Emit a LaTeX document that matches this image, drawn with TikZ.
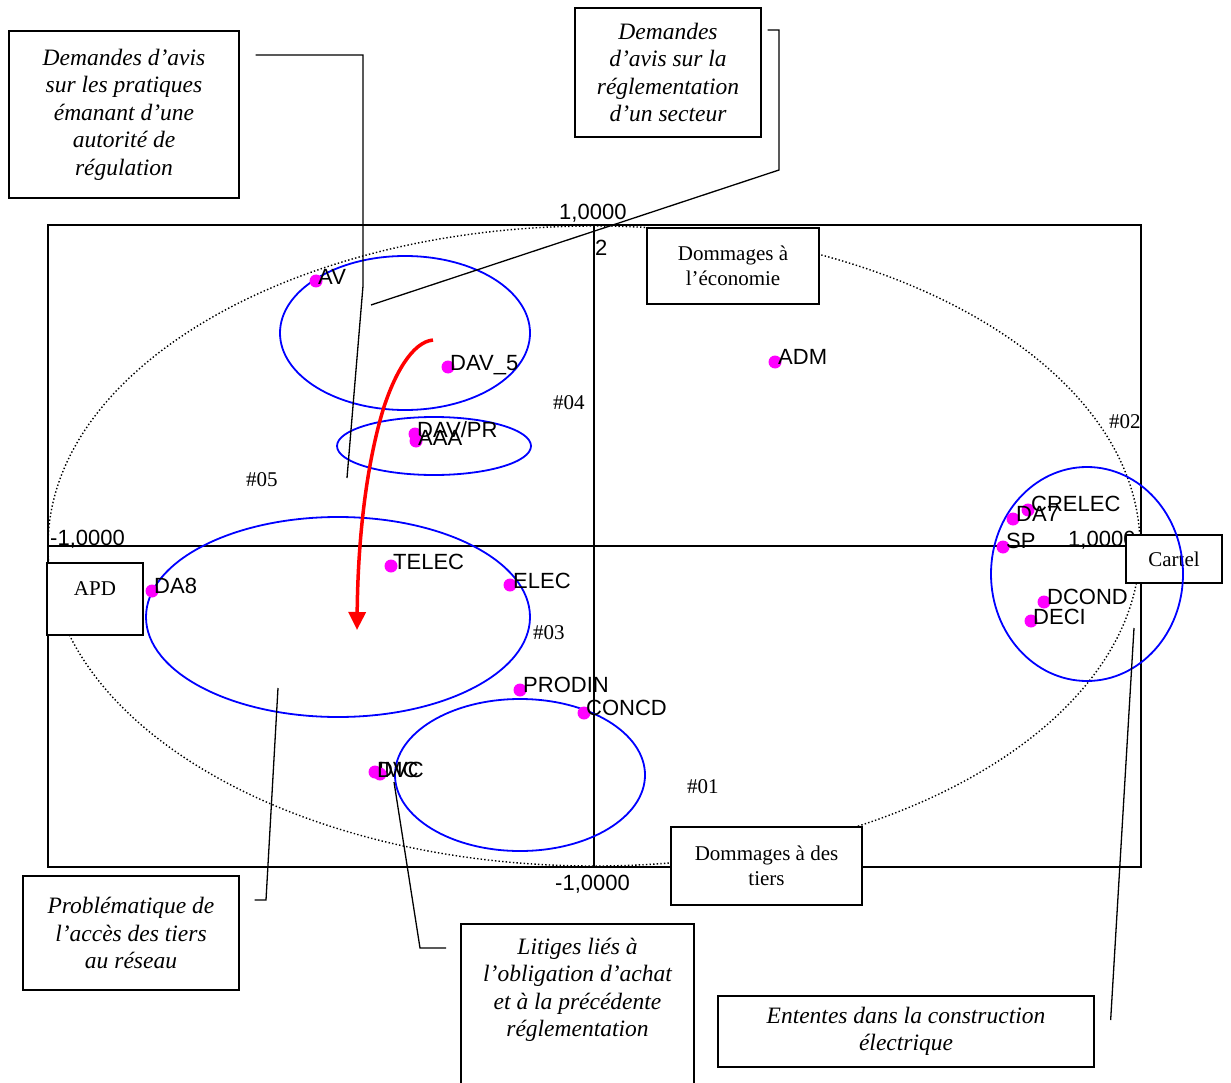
\documentclass[tikz,border=0pt]{standalone}
\usepackage{fontspec}
\setmainfont{Liberation Serif}
\newfontfamily\arialf{Liberation Sans}
\usetikzlibrary{arrows.meta}
\definecolor{ptmag}{RGB}{255,0,255}
\definecolor{grpblue}{RGB}{0,0,255}
\definecolor{arrred}{RGB}{255,0,0}
\tikzset{
  lbl/.style={font=\arialf\fontsize{22}{22}\selectfont, anchor=base west, inner sep=0},
  pdot/.style={circle, fill=ptmag, draw=none, inner sep=0, minimum size=13},
  hashl/.style={font=\fontsize{21}{21}\selectfont, anchor=base west, inner sep=0},
  ibox/.style={draw, line width=1.3, align=center, fill=white, inner sep=0,
    font=\itshape\fontsize{23.5}{27.5}\selectfont},
  itext/.style={align=center, inner sep=0, font=\itshape\fontsize{23.5}{27.5}\selectfont},
  rbox/.style={draw, line width=1.3, align=center, fill=white, inner sep=0,
    font=\fontsize{21}{25}\selectfont},
  grp/.style={draw=grpblue, line width=1.8},
  lead/.style={line width=1.3},
  axl/.style={font=\arialf\fontsize{22}{22}\selectfont, anchor=base west, inner sep=0}
}
\begin{document}
\begin{tikzpicture}[x=1pt,y=-1pt]
\useasboundingbox[fill=white] (0,0) rectangle (1231,1083);
% frame and axes
\draw[line width=1.3] (48,225) rectangle (1141,867);
\draw[line width=1.4, dash pattern=on 1.4pt off 2.2pt] (594,546) ellipse [x radius=546pt, y radius=320pt];
\draw[line width=1.3] (48,546) -- (1141,546);
\draw[line width=1.3] (594,225) -- (594,867);
% axis labels
\node[axl] (ytop) at (559,220) {1,0000};
\node[axl] (ytwo) at (595,256) {2};
\node[axl] (xleft) at (50,545) {-1,0000};
\node[axl] (xright) at (1068,546) {1,0000};
\node[axl] (ybot) at (555,890) {-1,0000};
% cluster labels
\node[hashl] (h04) at (553,409) {\#04};
\node[hashl] (h02) at (1109,428) {\#02};
\node[hashl] (h05) at (246,486) {\#05};
\node[hashl] (h03) at (533,639) {\#03};
\node[hashl] (h01) at (687,793) {\#01};
% boxes
\node[ibox, minimum width=230, minimum height=167] (b1) at (124,114.5)
  {Demandes d’avis\\sur les pratiques\\émanant d’une\\autorité de\\régulation};
\node[ibox, minimum width=186, minimum height=129] (b2) at (668,72.5)
  {Demandes\\d’avis sur la\\réglementation\\d’un secteur};
\node[rbox, minimum width=172, minimum height=76] (b3) at (733,266)
  {Dommages à\\l’économie};
\node[rbox, minimum width=96, minimum height=72, text height=15, text depth=23] (b4) at (95,599) {APD};
\node[rbox, minimum width=96, minimum height=48] (b5) at (1174,559) {Cartel};
\node[rbox, minimum width=191, minimum height=78] (b6) at (766.5,866)
  {Dommages à des\\tiers};
\node[ibox, minimum width=216, minimum height=114] (b7) at (131,933)
  {Problématique de\\l’accès des tiers\\au réseau};
\draw[line width=1.3] (461,1090) |- (694,924) -- (694,1090);
\node[itext] (b8) at (577.5,990)
  {Litiges liés à\\l’obligation d’achat\\et à la précédente\\réglementation};
\node[ibox, minimum width=376, minimum height=71] (b9) at (906,1031.5)
  {Ententes dans la construction\\électrique};
% blue groups
\draw[grp] (405,333) ellipse [x radius=125pt, y radius=77pt];
\draw[grp] (434,446) ellipse [x radius=97pt, y radius=29pt];
\draw[grp] (338,617) ellipse [x radius=192pt, y radius=100pt];
\draw[grp] (520,775) ellipse [x radius=125pt, y radius=76pt];
\draw[grp] (1087,574) ellipse [x radius=96pt, y radius=107pt];
% points
\node[pdot] (pAV) at (316,281) {};
\node[lbl] (lAV) at (318,284) {AV};
\node[pdot] (pDAV5) at (448,367) {};
\node[lbl] (lDAV5) at (450,370) {DAV\_5};
\node[pdot] (pDAVPR) at (415,434) {};
\node[lbl] (lDAVPR) at (417,437) {DAV/PR};
\node[pdot] (pAAA) at (416,441) {};
\node[lbl] (lAAA) at (418,445) {AAA};
\node[pdot] (pADM) at (775,362) {};
\node[lbl] (lADM) at (778,364) {ADM};
\node[pdot] (pTELEC) at (391,566) {};
\node[lbl] (lTELEC) at (393,569) {TELEC};
\node[pdot] (pELEC) at (510,585) {};
\node[lbl] (lELEC) at (513,588) {ELEC};
\node[pdot] (pDA8) at (152,591) {};
\node[lbl] (lDA8) at (154,593) {DA8};
\node[pdot] (pPRODIN) at (520,690) {};
\node[lbl] (lPRODIN) at (523,692) {PRODIN};
\node[pdot] (pCONCD) at (584,713) {};
\node[lbl] (lCONCD) at (586,715) {CONCD};
\node[pdot] (pIMC) at (375,772) {};
\node[lbl] (lIMC) at (378,777) {IMC};
\node[pdot] (pDC) at (380,774) {};
\node[lbl] (lDC) at (377,777) {DVC};
\node[pdot] (pCRELEC) at (1028,510) {};
\node[lbl] (lCRELEC) at (1031,511) {CRELEC};
\node[pdot] (pDA7) at (1013,519) {};
\node[lbl] (lDA7) at (1016,521) {DA7};
\node[pdot] (pSP) at (1003,547) {};
\node[lbl] (lSP) at (1006,548) {SP};
\node[pdot] (pDCOND) at (1044,602) {};
\node[lbl] (lDCOND) at (1047,604) {DCOND};
\node[pdot] (pDECI) at (1031,621) {};
\node[lbl] (lDECI) at (1033,624) {DECI};
% leader lines
\coordinate (e1) at (347,478);
\coordinate (e2) at (371,305);
\coordinate (e7) at (278,688);
\coordinate (e8) at (394,782);
\coordinate (e9) at (1134,628);
\draw[lead] ([xshift=16]b1.north east |- 0,55) -- (363,55) -- (363,286) -- (e1);
\draw[lead] ([xshift=6]b2.north east |- 0,30) -- (779,30) -- (779,170) -- (e2);
\draw[lead] ([xshift=15]b7.east |- 0,900) -- (266,900) -- (e7);
\draw[lead] (446,948) -- (420,948) -- (e8);
\draw[lead] ([xshift=16]b9.north east |- 0,1020) -- (e9);
% red arrow
\draw[arrred, line width=3.5, -{Triangle[length=18pt,width=17pt]}]
  (433,340) .. controls (412,342) and (394,375) .. (383,410)
  .. controls (368,460) and (358,530) .. (357,630);
\end{tikzpicture}
\end{document}
